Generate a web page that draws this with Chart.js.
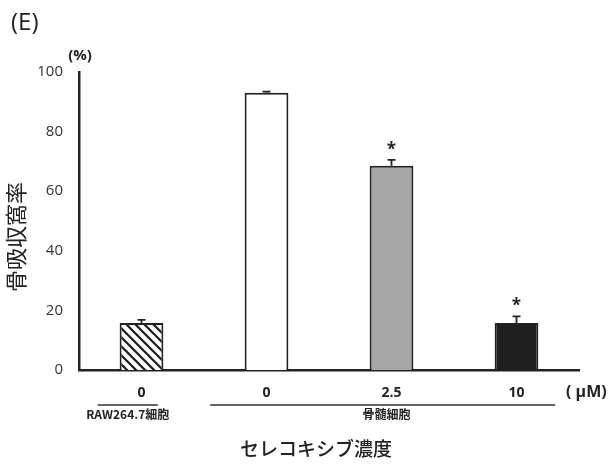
<!DOCTYPE html>
<html>
<head>
<meta charset="utf-8">
<script src="https://cdn.jsdelivr.net/npm/chart.js@4/dist/chart.umd.min.js"></script>
<style>
  html, body { margin: 0; padding: 0; background: #ffffff; }
  #wrap { width: 611px; height: 464px; position: relative; }
</style>
</head>
<body>
<div id="wrap"><canvas id="c" width="611" height="464"></canvas></div>
<script>
// Celecoxib concentration (µM) for each bar
const categories = ['0', '0', '2.5', '10'];
// Bone resorption pit ratio (%)
const resorption = [15.8, 93.0, 68.5, 15.8];
// Error bar size (%)
const errors = [1.0, 0.4, 2.0, 2.2];
// Significance markers
const significant = [false, false, true, true];
// Cell type groups below the axis: [first index, last index, label]
const groups = [
  [0, 0, 'RAW264.7細胞'],
  [1, 3, '骨髄細胞']
];
const yTickValues = [0, 20, 40, 60, 80, 100];

const JP = '"Noto Sans CJK JP", "Noto Sans", sans-serif';
const NUM = '"Open Sans", "Noto Sans", sans-serif';

// Diagonal hatching for the RAW264.7 bar
function hatchPattern() {
  const p = document.createElement('canvas');
  p.width = 9; p.height = 9;
  const g = p.getContext('2d');
  g.fillStyle = '#ffffff';
  g.fillRect(0, 0, 9, 9);
  g.strokeStyle = '#1a1a1a';
  g.lineWidth = 2.2;
  g.beginPath();
  g.moveTo(-2, -2); g.lineTo(11, 11);
  g.moveTo(-2, 7); g.lineTo(2, 11);
  g.moveTo(7, -2); g.lineTo(11, 2);
  g.stroke();
  return g.createPattern(p, 'repeat');
}

const ctx0 = document.getElementById('c').getContext('2d');
const fills = [hatchPattern(), '#ffffff', '#a6a6a6', '#1f1f1f'];

const annotate = {
  id: 'annotate',
  afterDatasetsDraw(chart) {
    const ctx = chart.ctx;
    const x = chart.scales.x, y = chart.scales.y;
    ctx.save();
    // error bars and significance stars
    resorption.forEach((v, i) => {
      const cx = x.getPixelForValue(i);
      const top = y.getPixelForValue(v);
      const cap = y.getPixelForValue(v + errors[i]);
      ctx.strokeStyle = '#222';
      ctx.lineWidth = 1.8;
      ctx.beginPath();
      ctx.moveTo(cx, top); ctx.lineTo(cx, cap);
      ctx.moveTo(cx - 4, cap); ctx.lineTo(cx + 4, cap);
      ctx.stroke();
      if (significant[i]) {
        ctx.fillStyle = '#222';
        ctx.font = 'bold 17px ' + NUM;
        ctx.textAlign = 'center';
        ctx.textBaseline = 'middle';
        ctx.fillText('*', cx, cap - 10);
      }
    });
    ctx.restore();
  },
  afterDraw(chart) {
    const ctx = chart.ctx;
    const x = chart.scales.x, y = chart.scales.y;
    const area = chart.chartArea;
    ctx.save();
    ctx.fillStyle = '#222';
    // panel letter
    ctx.font = '24px ' + NUM;
    ctx.textAlign = 'left';
    ctx.textBaseline = 'middle';
    ctx.fillText('(E)', 11, 23);
    // unit of the value axis
    ctx.font = 'bold 15px ' + NUM;
    ctx.textAlign = 'center';
    ctx.fillText('(%)', area.left + 1, y.getPixelForValue(100) - 16);
    // unit of the concentration axis
    ctx.font = 'bold 16px ' + NUM;
    ctx.textAlign = 'left';
    ctx.fillText('( µM)', area.right - 13, 392);
    // group brackets and labels
    const step = x.getPixelForValue(1) - x.getPixelForValue(0);
    groups.forEach(([a, b, label], gi) => {
      const x0 = gi === 0 ? x.getPixelForValue(a) - step * 0.35 : x.getPixelForValue(a) - step * 0.45;
      const x1 = gi === 0 ? x.getPixelForValue(b) + step * 0.13 : x.getPixelForValue(b) + step * 0.31;
      ctx.strokeStyle = '#333';
      ctx.lineWidth = 1.6;
      ctx.beginPath();
      ctx.moveTo(x0, 405); ctx.lineTo(x1, 405);
      ctx.stroke();
      ctx.font = 'bold 12px ' + JP;
      ctx.textAlign = 'center';
      const lx = gi === 0 ? (x0 + x1) / 2 : (x.getPixelForValue(2) - 5);
      ctx.fillText(label, lx, 414);
    });
    // concentration axis title
    ctx.font = '500 19px ' + JP;
    ctx.textAlign = 'center';
    ctx.fillText('セレコキシブ濃度', 316, 449);
    // value axis title
    ctx.translate(16, 237);
    ctx.rotate(-Math.PI / 2);
    ctx.font = '22px ' + JP;
    ctx.fillText('骨吸収窩率', 0, 0);
    ctx.restore();
  }
};

new Chart(ctx0, {
  type: 'bar',
  data: {
    labels: categories,
    datasets: [{
      data: resorption,
      backgroundColor: fills,
      borderColor: '#222',
      borderWidth: 2,
      borderSkipped: 'bottom',
      barPercentage: 0.7,
      categoryPercentage: 0.5
    }]
  },
  options: {
    responsive: false,
    animation: false,
    events: [],
    layout: { padding: { top: 72, right: 32, left: 0, bottom: 0 } },
    plugins: { legend: { display: false }, tooltip: { enabled: false } },
    scales: {
      x: {
        grid: { display: false, drawTicks: false },
        border: { display: true, color: '#222', width: 2.5 },
        ticks: { color: '#222', font: { family: NUM, size: 14, weight: 'bold' }, padding: 15 },
        afterFit(s) { s.height = 94; }
      },
      y: {
        min: 0, max: 100,
        afterBuildTicks(s) { s.ticks = yTickValues.map(v => ({ value: v })); },
        grid: { display: false, drawTicks: false },
        border: { display: true, color: '#222', width: 2.5 },
        ticks: { color: '#333', font: { family: NUM, size: 15 }, padding: 16 },
        afterFit(s) { s.width = 79; }
      }
    }
  },
  plugins: [annotate]
});
</script>
</body>
</html>
